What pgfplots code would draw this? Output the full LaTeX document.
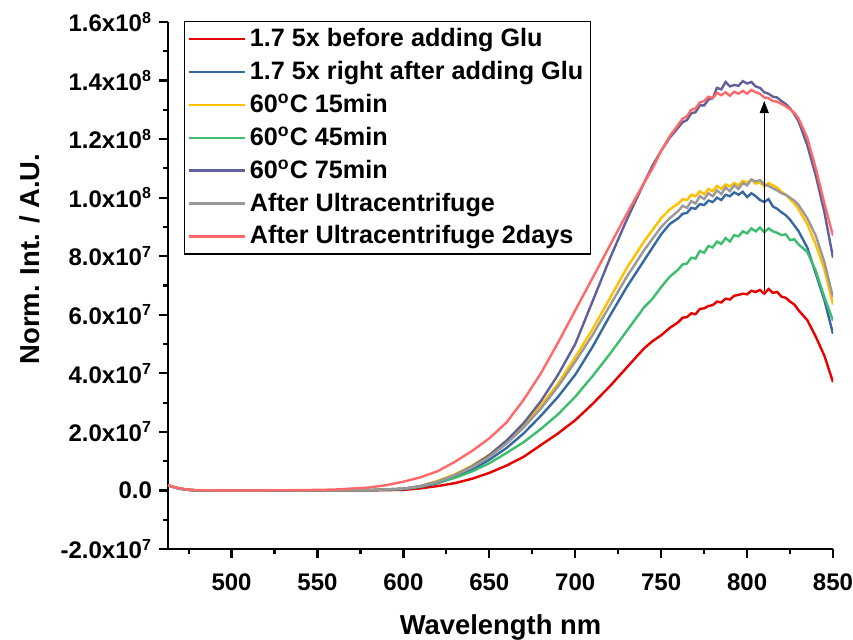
\documentclass[border=0pt]{standalone}
\usepackage{fontspec}
\setmainfont{Liberation Sans}
\usepackage{pgfplots}
\pgfplotsset{compat=1.18}
\usetikzlibrary{arrows.meta}
\definecolor{cRed}{RGB}{230,0,0}
\definecolor{cBlue}{RGB}{54,105,160}
\definecolor{cYel}{RGB}{255,192,0}
\definecolor{cGreen}{RGB}{60,190,110}
\definecolor{cPur}{RGB}{96,96,154}
\definecolor{cGray}{RGB}{153,153,153}
\definecolor{cPink}{RGB}{255,105,105}
\begin{document}
\begin{tikzpicture}
\path[use as bounding box] (-84pt,-45pt) rectangle (342.5pt,274.5pt);
\begin{axis}[
  scale only axis, width=332.5pt, height=263.5pt,
  xmin=463, xmax=850, ymin=-2, ymax=16,
  axis lines*=left,
  axis line style={line width=1.2pt},
  tick align=outside, major tick length=4.5pt, minor tick length=2.5pt,
  every tick/.style={black, line width=1.1pt},
  xtick={500,550,...,850},
  xticklabels={500,550,600,650,700,750,800,850},
  minor xtick={475,525,...,825},
  ytick={-2,0,...,16},
  yticklabels={-2.0x10\textsuperscript{7},0.0,2.0x10\textsuperscript{7},4.0x10\textsuperscript{7},6.0x10\textsuperscript{7},8.0x10\textsuperscript{7},1.0x10\textsuperscript{8},1.2x10\textsuperscript{8},1.4x10\textsuperscript{8},1.6x10\textsuperscript{8}},
  minor ytick={-1,1,...,15},
  tick label style={font=\fontsize{12}{14}\selectfont\bfseries},
  xticklabel style={yshift=-4.5pt},
  xlabel={Wavelength nm}, ylabel={Norm. Int. / A.U.},
  label style={font=\fontsize{13.7}{16}\selectfont\bfseries},
  every axis x label/.append style={at={(rel axis cs:0.5,0)}, anchor=center, yshift=-39pt},
  every axis y label/.append style={at={(rel axis cs:0,0.55)}, anchor=center, yshift=69pt},
  legend style={at={(rel axis cs:0.024,1.002)}, anchor=north west, draw=black, line width=0.6pt,
    font=\fontsize{12.6}{15}\selectfont\bfseries, inner sep=1.5pt, row sep=1.8pt},
  legend cell align=left,
  legend image code/.code={\draw[#1,line width=1.2pt] (0pt,0pt) -- (28pt,0pt);},
  every axis plot/.append style={line width=1.2pt},
]
\addplot[cRed] coordinates {(463,0.18)(466,0.12)(470,0.06)(475,0.02)(480,0)(500,0)(540,0)(580,0)(600,0.02)(610,0.07)(620,0.15)(630,0.25)(640,0.40)(650,0.60)(660,0.85)(670,1.15)(680,1.55)(690,1.95)(700,2.40)(710,2.95)(720,3.55)(730,4.20)(740,4.85)(745,5.10)(750,5.30)(755,5.55)
(760,5.75)(762.5,5.90)(765,5.92)(767.5,6.05)(770,6.02)(772.5,6.20)(775,6.22)(777.5,6.30)(780,6.33)(782.5,6.45)(785,6.42)(787.5,6.55)(790,6.52)(792.5,6.65)(795,6.68)(797.5,6.72)(800,6.70)(802.5,6.82)(805,6.78)(807.5,6.85)(810,6.72)(812.5,6.88)(815,6.75)(817.5,6.78)(820,6.62)(822.5,6.58)(825,6.45)(827.5,6.35)(830,6.15)
(835,5.82)(840,5.25)(845,4.60)(850,3.70)};
\addlegendentry{1.7 5x before adding Glu}
\addplot[cBlue] coordinates {(463,0.18)(466,0.12)(470,0.06)(475,0.02)(480,0)(500,0)(540,0)(580,0.01)(600,0.05)(610,0.12)(620,0.25)(630,0.45)(640,0.70)(650,1.05)(660,1.45)(670,1.95)(680,2.55)(690,3.20)(700,3.95)(710,4.90)(720,5.95)(730,6.95)(740,7.85)(745,8.30)(750,8.75)(755,9.10)
(760,9.30)(762.5,9.45)(765,9.48)(767.5,9.65)(770,9.62)(772.5,9.78)(775,9.75)(777.5,9.90)(780,9.85)(782.5,10.00)(785,9.92)(787.5,10.10)(790,10.05)(792.5,10.18)(795,10.10)(797.5,10.20)(800,10.02)(802.5,10.15)(805,10.05)(807.5,9.92)(810,9.85)(812.5,9.95)(815,9.70)(817.5,9.62)(820,9.50)(822.5,9.40)(825,9.25)(827.5,9.05)(830,8.85)
(835,8.30)(840,7.40)(845,6.50)(850,5.35)};
\addlegendentry{1.7 5x right after adding Glu}
\addplot[cYel] coordinates {(463,0.18)(466,0.12)(470,0.06)(475,0.02)(480,0)(500,0)(540,0)(580,0.01)(600,0.06)(610,0.15)(620,0.33)(630,0.55)(640,0.85)(650,1.22)(660,1.70)(670,2.25)(680,2.90)(690,3.65)(700,4.55)(710,5.50)(720,6.55)(730,7.60)(740,8.50)(745,8.90)(750,9.30)(755,9.60)
(760,9.80)(762.5,9.95)(765,9.92)(767.5,10.10)(770,10.05)(772.5,10.22)(775,10.12)(777.5,10.30)(780,10.22)(782.5,10.40)(785,10.30)(787.5,10.45)(790,10.38)(792.5,10.50)(795,10.42)(797.5,10.58)(800,10.50)(802.5,10.62)(805,10.48)(807.5,10.52)(810,10.38)(812.5,10.50)(815,10.42)(817.5,10.35)(820,10.20)(822.5,10.10)(825,9.95)(827.5,9.80)(830,9.60)
(835,9.10)(840,8.40)(845,7.55)(850,6.35)};
\addlegendentry{60\textsuperscript{o}C 15min}
\addplot[cGreen] coordinates {(463,0.18)(466,0.12)(470,0.06)(475,0.02)(480,0)(500,0)(540,0)(580,0.01)(600,0.05)(610,0.13)(620,0.27)(630,0.43)(640,0.65)(650,0.93)(660,1.28)(670,1.65)(680,2.10)(690,2.60)(700,3.20)(710,3.90)(720,4.65)(730,5.45)(740,6.25)(745,6.55)(750,6.95)(755,7.30)
(760,7.55)(762.5,7.72)(765,7.75)(767.5,7.95)(770,7.92)(772.5,8.18)(775,8.12)(777.5,8.35)(780,8.30)(782.5,8.50)(785,8.42)(787.5,8.62)(790,8.50)(792.5,8.72)(795,8.68)(797.5,8.85)(800,8.78)(802.5,8.95)(805,8.85)(807.5,8.98)(810,8.82)(812.5,8.95)(815,8.85)(817.5,8.80)(820,8.72)(822.5,8.75)(825,8.55)(827.5,8.58)(830,8.40)
(835,8.15)(840,7.50)(845,6.60)(850,5.80)};
\addlegendentry{60\textsuperscript{o}C 45min}
\addplot[cPur] coordinates {(463,0.18)(466,0.12)(470,0.06)(475,0.02)(480,0)(500,0)(540,0)(580,0.01)(600,0.06)(610,0.15)(620,0.30)(630,0.52)(640,0.82)(650,1.20)(660,1.70)(670,2.30)(680,3.05)(690,3.95)(700,5.00)(710,6.45)(720,7.90)(730,9.25)(740,10.50)(745,11.10)(750,11.60)(755,12.05)
(760,12.40)(762.5,12.58)(765,12.65)(767.5,12.88)(770,12.92)(772.5,13.15)(775,13.15)(777.5,13.35)(780,13.40)(782.5,13.75)(785,13.70)(787.5,13.95)(790,13.80)(792.5,13.85)(795,13.82)(797.5,13.98)(800,13.90)(802.5,13.95)(805,13.80)(807.5,13.75)(810,13.60)(812.5,13.55)(815,13.45)(817.5,13.42)(820,13.30)(822.5,13.20)(825,13.05)(827.5,12.85)(830,12.60)
(835,11.80)(840,10.75)(845,9.50)(850,7.95)};
\addlegendentry{60\textsuperscript{o}C 75min}
\addplot[cGray] coordinates {(463,0.18)(466,0.12)(470,0.06)(475,0.02)(480,0)(500,0)(540,0)(580,0.01)(600,0.06)(610,0.14)(620,0.30)(630,0.52)(640,0.80)(650,1.15)(660,1.60)(670,2.15)(680,2.80)(690,3.55)(700,4.40)(710,5.30)(720,6.30)(730,7.30)(740,8.20)(745,8.60)(750,9.00)(755,9.30)
(760,9.55)(762.5,9.72)(765,9.65)(767.5,9.88)(770,9.80)(772.5,10.05)(775,9.95)(777.5,10.15)(780,10.05)(782.5,10.25)(785,10.12)(787.5,10.35)(790,10.22)(792.5,10.42)(795,10.30)(797.5,10.50)(800,10.42)(802.5,10.62)(805,10.55)(807.5,10.60)(810,10.45)(812.5,10.40)(815,10.32)(817.5,10.25)(820,10.15)(822.5,10.10)(825,10.00)(827.5,9.90)(830,9.75)
(835,9.30)(840,8.70)(845,7.80)(850,6.60)};
\addlegendentry{After Ultracentrifuge}
\addplot[cPink] coordinates {(463,0.18)(466,0.12)(470,0.07)(475,0.03)(480,0.01)(500,0)(540,0.01)(560,0.03)(580,0.10)(590,0.18)(600,0.30)(610,0.45)(620,0.66)(630,0.98)(640,1.35)(650,1.78)(660,2.32)(670,3.10)(680,4.00)(690,5.05)(700,6.15)(710,7.25)(720,8.35)(730,9.45)(740,10.50)(745,11.00)(750,11.60)(755,12.10)
(760,12.50)(762.5,12.70)(765,12.78)(767.5,13.00)(770,13.05)(772.5,13.25)(775,13.30)(777.5,13.45)(780,13.40)(782.5,13.58)(785,13.50)(787.5,13.60)(790,13.48)(792.5,13.62)(795,13.55)(797.5,13.65)(800,13.55)(802.5,13.68)(805,13.60)(807.5,13.55)(810,13.42)(812.5,13.40)(815,13.30)(817.5,13.28)(820,13.20)(822.5,13.12)(825,13.02)(827.5,12.90)(830,12.70)
(835,12.05)(840,11.00)(845,9.80)(850,8.70)};
\addlegendentry{After Ultracentrifuge 2days}
\draw[line width=0.5pt, -{Triangle[length=6pt,width=4.5pt]}] (axis cs:810,6.8) -- (axis cs:810,13.3);
\end{axis}
\end{tikzpicture}
\end{document}
